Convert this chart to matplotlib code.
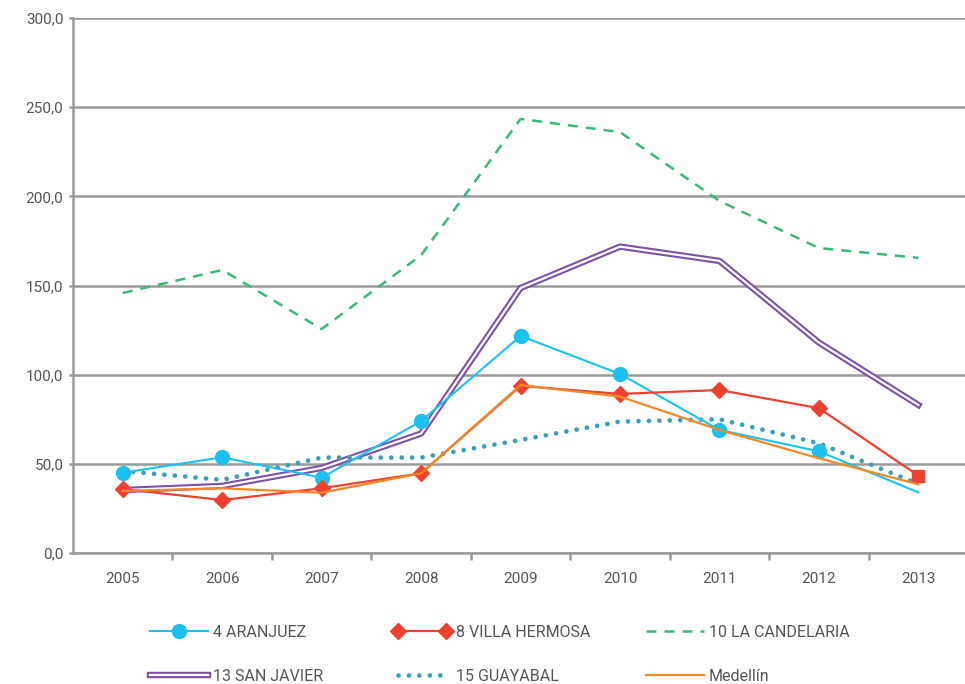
import matplotlib
matplotlib.use("Agg")
import matplotlib.pyplot as plt
import numpy as np

plt.rcParams['font.family'] = ['Roboto', 'DejaVu Sans']

years = ['2005', '2006', '2007', '2008', '2009', '2010', '2011', '2012', '2013']
aranjuez = [45.0, 53.7, 42.2, 74.0, 121.7, 100.4, 69.0, 57.0, 34.0]
villa_hermosa = [35.9, 29.7, 36.3, 44.7, 93.7, 89.2, 91.4, 81.2, 43.4]
candelaria = [145.8, 158.7, 125.6, 167.0, 243.4, 236.0, 197.4, 171.0, 165.5]
san_javier = [35.3, 37.6, 47.7, 67.0, 148.6, 171.8, 163.8, 118.0, 83.0]
guayabal = [46.0, 41.0, 53.5, 53.5, 63.4, 73.7, 75.0, 61.5, 38.7]
medellin = [34.8, 36.3, 33.8, 44.7, 94.2, 87.7, 69.0, 53.1, 38.5]

yticks = [0, 50, 100, 150, 200, 250, 300]

grid_c = '#9a9a9a'
txt_c = '#555555'

fig = plt.figure(figsize=(9.65, 6.84), dpi=100)
ax = fig.add_axes([0.0757, 0.1915, 0.9275, 0.7822])

x = np.arange(len(years))
n = len(years)

for y in yticks:
    ax.axhline(y, color=grid_c, lw=1.8, zorder=1)

# the last point of each marked series has no / a different marker in the source
h_ar, = ax.plot(x, aranjuez, color='#1EC0F0', lw=1.5, marker='o', ms=10,
                markevery=list(range(n - 1)), zorder=4)
h_vh, = ax.plot(x, villa_hermosa, color='#EE4130', lw=1.6, marker='D', ms=8,
                markevery=list(range(n - 1)), zorder=4)
ax.plot(x[-1:], villa_hermosa[-1:], color='#EE4130', marker='s', ms=8,
        ls='none', zorder=4)
h_ca, = ax.plot(x, candelaria, color='#3BB878', lw=1.8,
                dashes=(4, 3.2), zorder=3)
h_sj1, = ax.plot(x, san_javier, color='#7B52A8', lw=4.6, zorder=3)
h_sj2, = ax.plot(x, san_javier, color='white', lw=1.6, zorder=3)
h_gu, = ax.plot(x, guayabal, color='#3AA0B8', lw=3.4, dashes=(0.01, 2.2),
                dash_capstyle='round', zorder=3)
h_me, = ax.plot(x, medellin, color='#F0892A', lw=1.6, zorder=4)

ax.set_xlim(-0.5, n - 0.5)
ax.set_ylim(0, 300)
ax.set_xticks(x)
ax.set_xticklabels(years)
ax.set_xticks(np.arange(0.5, n - 0.5), minor=True)
ax.set_yticks(yticks)
ax.set_yticklabels([('%.1f' % v).replace('.', ',') for v in yticks])

ax.tick_params(axis='x', which='major', length=0, pad=14, labelsize=11,
               labelcolor=txt_c)
ax.tick_params(axis='x', which='minor', length=5, width=1.8, color=grid_c)
ax.tick_params(axis='y', length=3, width=1.8, color=grid_c, pad=4,
               labelsize=11, labelcolor=txt_c)

for s in ['top', 'right']:
    ax.spines[s].set_visible(False)
for s in ['left', 'bottom']:
    ax.spines[s].set_color(grid_c)
    ax.spines[s].set_linewidth(1.8)

columns = [
    ([h_ar, (h_sj1, h_sj2)], ['4 ARANJUEZ', '13 SAN JAVIER'], 150, 1),
    ([h_vh, h_gu], ['8 VILLA HERMOSA', '15 GUAYABAL'], 393, 2),
    ([h_ca, h_me], ['10 LA CANDELARIA', 'Medellín'], 646, 1),
]
for hs, ls, px, npts in columns:
    leg = fig.legend(hs, ls, loc='upper left',
                     bbox_to_anchor=(px / 965, 1 - 625 / 684), frameon=False,
                     borderpad=0, borderaxespad=0, numpoints=npts,
                     handlelength=3.6, handletextpad=0.35,
                     labelspacing=1.8, fontsize=11.5)
    for t in leg.get_texts():
        t.set_color(txt_c)

fig.savefig('out.png', dpi=100)
